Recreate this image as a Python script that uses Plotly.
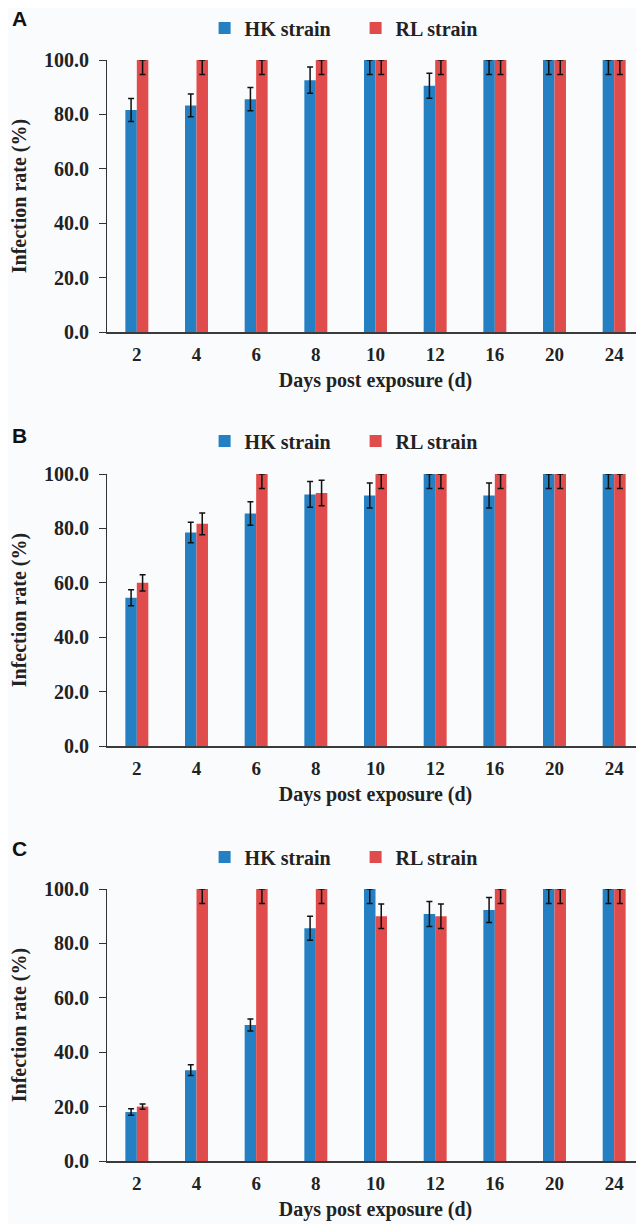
import plotly.graph_objects as go

days = ["2", "4", "6", "8", "10", "12", "16", "20", "24"]

# Panel A
hk_a = [81.6, 83.3, 85.6, 92.6, 100.0, 90.5, 100.0, 100.0, 100.0]
hk_a_err = [4.2, 4.2, 4.3, 4.8, 5.3, 4.6, 5.3, 5.3, 5.3]
rl_a = [100.0, 100.0, 100.0, 100.0, 100.0, 100.0, 100.0, 100.0, 100.0]
rl_a_err = [5.3, 5.3, 5.3, 5.3, 5.3, 5.3, 5.3, 5.3, 5.3]

# Panel B
hk_b = [54.5, 78.5, 85.5, 92.5, 92.1, 100.0, 92.1, 100.0, 100.0]
hk_b_err = [2.9, 3.8, 4.3, 4.7, 4.6, 5.3, 4.6, 5.3, 5.3]
rl_b = [60.0, 81.7, 100.0, 93.0, 100.0, 100.0, 100.0, 100.0, 100.0]
rl_b_err = [3.0, 4.0, 5.3, 4.7, 5.3, 5.3, 5.3, 5.3, 5.3]

# Panel C
hk_c = [18.0, 33.4, 50.0, 85.6, 100.0, 90.8, 92.3, 100.0, 100.0]
hk_c_err = [1.2, 2.0, 2.2, 4.4, 5.3, 4.6, 4.6, 5.3, 5.3]
rl_c = [20.0, 100.0, 100.0, 100.0, 90.0, 90.0, 100.0, 100.0, 100.0]
rl_c_err = [1.0, 5.3, 5.3, 5.3, 4.5, 4.5, 5.3, 5.3, 5.3]

panel_labels = ["A", "B", "C"]
y_ticks = [0, 20, 40, 60, 80, 100]

BLUE = "#2480c2"
RED = "#e04c4b"
BG = "#fafbfd"
SERIF = "Liberation Serif"
TXT = "#222222"

OFF = 8  # default page body margin
W, H = 644 - OFF, 1224 - OFF
boxes = [(60, 332), (474, 746), (889, 1161)]   # page pixel rows of plot areas
legend_y = [28, 441, 857]
label_y = [18, 435, 848]
x_left = 107


def px_x(px):
    return (px - OFF) / W


def px_y(py):
    return 1 - (py - OFF) / H


fig = go.Figure()
panels = [
    (hk_a, hk_a_err, rl_a, rl_a_err),
    (hk_b, hk_b_err, rl_b, rl_b_err),
    (hk_c, hk_c_err, rl_c, rl_c_err),
]


def err_dict(vals, errs):
    plus = [min(e, 100 - v) for v, e in zip(vals, errs)]
    return dict(type="data", symmetric=False, array=plus, arrayminus=errs,
                color="#111111", thickness=1.5, width=3)


for i, (hk, hke, rl, rle) in enumerate(panels):
    xa = "x" if i == 0 else f"x{i+1}"
    ya = "y" if i == 0 else f"y{i+1}"
    lg = "legend" if i == 0 else f"legend{i+1}"
    fig.add_trace(go.Bar(x=days, y=hk, name="HK strain", marker_color=BLUE,
                         marker_line_width=0, error_y=err_dict(hk, hke),
                         xaxis=xa, yaxis=ya, legend=lg))
    fig.add_trace(go.Bar(x=days, y=rl, name="RL strain", marker_color=RED,
                         marker_line_width=0, error_y=err_dict(rl, rle),
                         xaxis=xa, yaxis=ya, legend=lg))

layout = dict(
    width=W, height=H,
    margin=dict(l=0, r=0, t=0, b=0, autoexpand=False),
    paper_bgcolor=BG, plot_bgcolor=BG,
    barmode="group", bargap=0.615, bargroupgap=0,
    font=dict(family=SERIF, size=18, color=TXT),
    showlegend=True,
)

annotations = []
for i, (top, bot) in enumerate(boxes):
    sfx = "" if i == 0 else str(i + 1)
    layout[f"xaxis{sfx}"] = dict(
        domain=[px_x(x_left), 1.0], anchor=f"y{sfx}", automargin=False,
        type="category", range=[-0.5, 8.5],
        showline=True, linecolor="#3a3a3a", linewidth=2,
        ticks="", showgrid=False, zeroline=False,
        ticklabelstandoff=4,
        tickfont=dict(family=SERIF, size=19, color=TXT, weight="bold"),
        title=dict(text="<b>Days post exposure (d)</b>",
                   font=dict(family=SERIF, size=20, color=TXT),
                   standoff=9),
    )
    layout[f"yaxis{sfx}"] = dict(
        domain=[px_y(bot), px_y(top)], anchor=f"x{sfx}", automargin=False,
        range=[0, 100], tickvals=y_ticks, tickformat=".1f",
        showline=True, linecolor="#333333", linewidth=1,
        ticks="outside", ticklen=7, tickcolor="#333333",
        ticklabelstandoff=6,
        showgrid=False, zeroline=False,
        tickfont=dict(family=SERIF, size=20, color=TXT, weight="bold"),
        title=dict(text="<b>Infection rate (%)</b>",
                   font=dict(family=SERIF, size=20, color=TXT),
                   standoff=14),
    )
    lg = "legend" if i == 0 else f"legend{i+1}"
    layout[lg] = dict(
        orientation="h", x=px_x(204.6), xanchor="left",
        y=px_y(legend_y[i]), yanchor="middle",
        bgcolor="rgba(0,0,0,0)",
        font=dict(family=SERIF, size=20, color=TXT, weight="bold"),
        entrywidth=106, entrywidthmode="pixels",
        itemsizing="constant",
    )
    annotations.append(dict(
        text="<b>" + panel_labels[i] + "</b>", xref="paper", yref="paper",
        x=px_x(10), y=px_y(label_y[i]), xanchor="left", yanchor="middle",
        showarrow=False, font=dict(family="Liberation Sans", size=21, color="#111111"),
    ))

layout["annotations"] = annotations
fig.update_layout(**layout)

fig.write_html("out.html")
